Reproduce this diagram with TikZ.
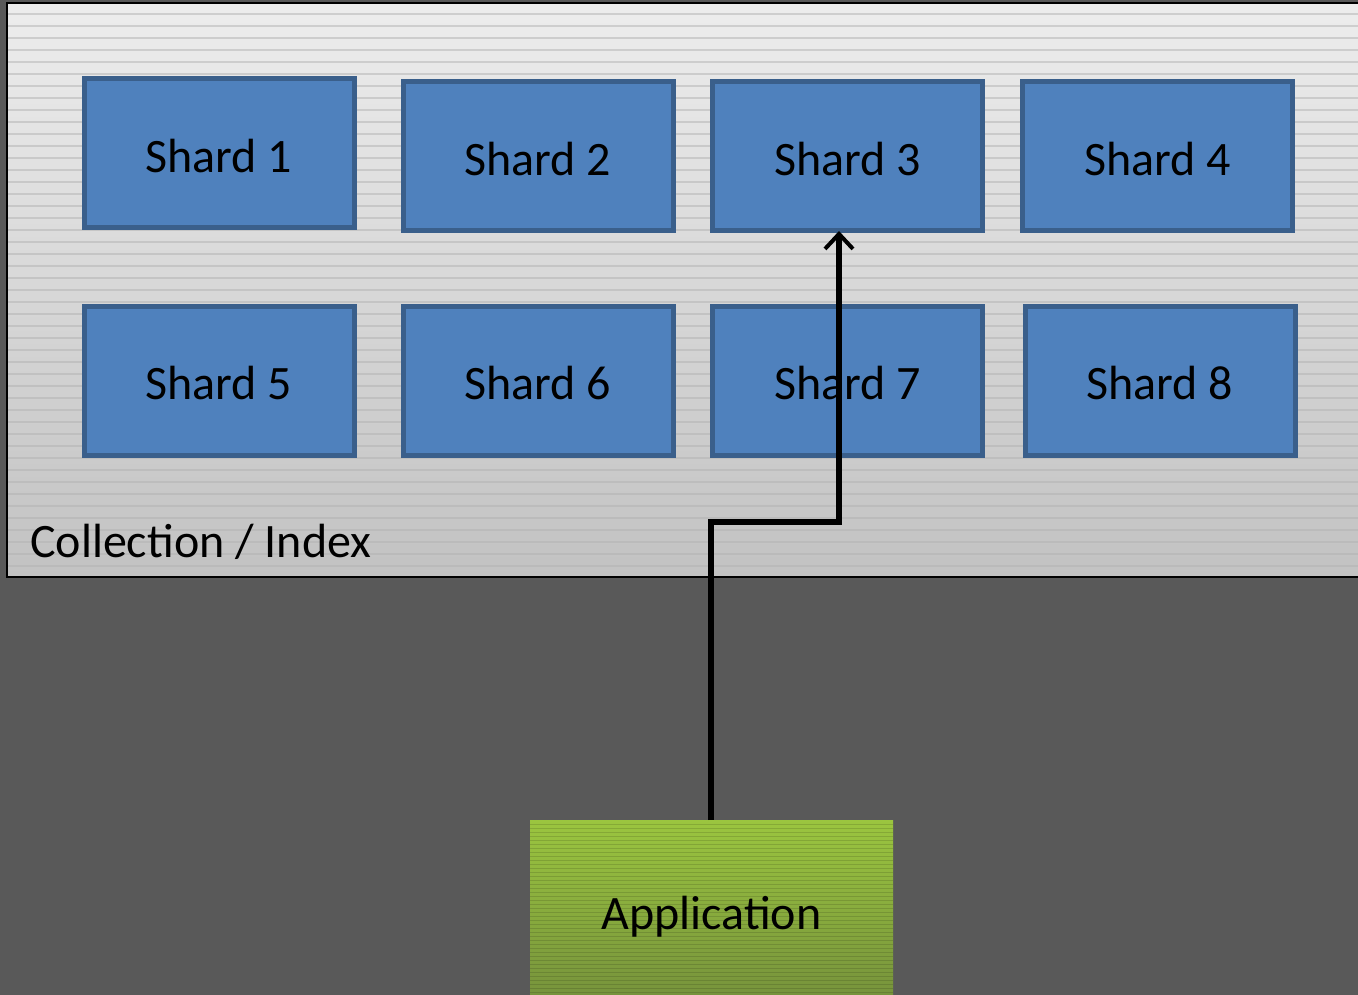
\documentclass[tikz,border=0pt]{standalone}
\usepackage{fontspec}
\setmainfont{Carlito}
\usetikzlibrary{arrows.meta}
\definecolor{bgdark}{HTML}{595959}
\definecolor{shardfill}{HTML}{4F81BD}
\definecolor{sharddraw}{HTML}{3A5F8B}
\definecolor{colltop}{HTML}{EDEDED}
\definecolor{collbot}{HTML}{C2C2C2}
\definecolor{apptop}{HTML}{9BC53F}
\definecolor{appbot}{HTML}{76923C}
\tikzset{
  bigfont/.style={font=\fontsize{48}{57}\selectfont},
  shardbox/.style={draw=sharddraw, fill=shardfill, line width=5pt, minimum width=270pt, minimum height=149pt, inner sep=0pt, bigfont, text=black, text height=40pt, text depth=2pt},
  conn/.style={draw=black, line width=5.5pt, -{Straight Barb[length=15pt,width=28pt,line width=4pt]}},
}
\begin{document}
\begin{tikzpicture}[x=1pt,y=-1pt]
\useasboundingbox (0,0) rectangle (1358,995);
\fill[bgdark] (0,0) rectangle (1358,995);
% collection box
\begin{scope}
\clip (0,0) rectangle (1358,995);
\shade[top color=colltop, bottom color=collbot] (7,3) rectangle (1370,577);
\foreach \y in {14,26,...,576} \draw[black!30, line width=1.2pt, opacity=0.5] (8,\y) -- (1358,\y);
\draw[black, line width=2.5pt] (7,3) rectangle (1370,577);
\end{scope}
\node[anchor=base west, bigfont, inner sep=0pt] (coll) at (30,557) {Collection / Index};
% shards
\node[shardbox] (s1) at (219,153.5) {Shard 1};
\node[shardbox] (s2) at (538,156.5) {Shard 2};
\node[shardbox] (s3) at (847.5,156.5) {Shard 3};
\node[shardbox] (s4) at (1157.5,156.5) {Shard 4};
\node[shardbox] (s5) at (219,380.5) {Shard 5};
\node[shardbox] (s6) at (538,380.5) {Shard 6};
\node[shardbox] (s7) at (847.5,380.5) {Shard 7};
\node[shardbox] (s8) at (1160,380.5) {Shard 8};
% application
\begin{scope}
\clip (0,0) rectangle (1358,995);
\shade[top color=apptop, bottom color=appbot] (530,820) rectangle (893,1000);
\foreach \y in {824,828,...,996} \draw[black, opacity=0.13, line width=1pt] (530,\y) -- (893,\y);
\end{scope}
\node[minimum width=363pt, minimum height=190pt, inner sep=0pt, anchor=north] (app) at (711.5,820) {};
\node[bigfont, inner sep=0pt, anchor=base] (applbl) at (711.5,929) {Application};
% connector
\coordinate (bend) at (711,522);
\coordinate (tip) at (839,231);
\draw[conn] (app.north -| bend) -- (bend) -- (bend -| tip) -- (tip);
\end{tikzpicture}
\end{document}
